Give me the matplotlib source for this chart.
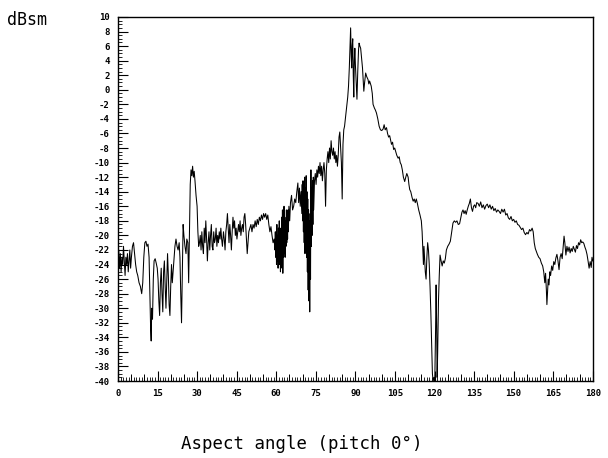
import matplotlib
matplotlib.use("Agg")
import matplotlib.pyplot as plt
from matplotlib.ticker import MultipleLocator

# aspect angle (deg) and RCS (dBsm)
angle = [
    0.0, 0.3, 0.6, 0.9, 1.2, 1.5, 1.8, 2.1, 2.4, 2.7, 3.0, 3.3, 3.6, 3.9, 4.2, 4.5, 4.8, 5.1, 5.5, 5.9,
    6.3, 6.7, 7.1, 7.5, 8.0, 8.5, 9.0, 9.4, 9.8, 10.2, 10.6, 11.0, 11.4, 11.8, 12.1, 12.4, 12.6, 12.8, 13.1, 13.4,
    13.7, 14.1, 14.5, 14.9, 15.2, 15.5, 15.8, 16.1, 16.4, 16.7, 17.0, 17.3, 17.6, 17.9, 18.2, 18.5, 18.8, 19.1, 19.4, 19.7,
    20.0, 20.3, 20.6, 20.9, 21.2, 21.6, 22.0, 22.4, 22.8, 23.2, 23.5, 23.8, 24.1, 24.4, 24.7, 25.0, 25.4, 25.8, 26.1, 26.5,
    26.8, 27.1, 27.4, 27.7, 28.0, 28.3, 28.6, 28.9, 29.2, 29.6, 30.0, 30.3, 30.6, 30.9, 31.2, 31.5, 31.8, 32.1, 32.4, 32.7,
    33.0, 33.3, 33.6, 33.9, 34.2, 34.5, 34.8, 35.1, 35.4, 35.7, 36.0, 36.3, 36.6, 36.9, 37.2, 37.5, 37.8, 38.1, 38.4, 38.7,
    39.0, 39.3, 39.6, 40.0, 40.3, 40.6, 40.9, 41.2, 41.5, 41.8, 42.1, 42.4, 42.7, 43.0, 43.3, 43.6, 43.9, 44.2, 44.5, 44.8,
    45.1, 45.4, 45.7, 46.0, 46.3, 46.6, 46.9, 47.2, 47.5, 47.8, 48.1, 48.4, 48.7, 49.0, 49.3, 49.6, 50.0, 50.4, 50.8, 51.2,
    51.6, 52.0, 52.4, 52.8, 53.2, 53.6, 54.0, 54.4, 54.8, 55.2, 55.6, 56.0, 56.4, 56.8, 57.2, 57.6, 58.0, 58.4, 58.8, 59.2,
    59.5, 59.65, 59.8, 59.95, 60.1, 60.25, 60.4, 60.55, 60.7, 60.85, 61.0, 61.15, 61.3, 61.45, 61.6, 61.75, 61.9, 62.05, 62.2, 62.35,
    62.5, 62.65, 62.8, 62.95, 63.1, 63.25, 63.4, 63.55, 63.7, 63.85, 64.0, 64.15, 64.3, 64.45, 64.6, 64.8, 65.1, 65.4, 65.8, 66.2,
    66.6, 67.0, 67.4, 67.8, 68.2, 68.5, 68.8, 69.1, 69.4, 69.7, 69.85, 70.0, 70.15, 70.3, 70.45, 70.6, 70.75, 70.9, 71.05, 71.2,
    71.35, 71.5, 71.65, 71.8, 71.95, 72.1, 72.25, 72.4, 72.55, 72.7, 72.85, 73.0, 73.15, 73.3, 73.45, 73.6, 73.75, 73.9, 74.05, 74.2,
    74.5, 74.8, 75.1, 75.4, 75.7, 76.0, 76.3, 76.6, 76.9, 77.2, 77.5, 77.8, 78.1, 78.4, 78.7, 79.0, 79.3, 79.6,
    79.9, 80.2, 80.5, 80.8, 81.1, 81.4, 81.7, 82.0, 82.3, 82.6, 82.9, 83.2, 83.5, 83.8, 84.1, 84.4, 84.7, 85.0, 85.3, 85.6,
    85.9, 86.2, 86.5, 86.8, 87.1, 87.4, 87.7, 88.0, 88.2, 88.4, 88.6, 88.8, 89.0, 89.2, 89.4, 89.6, 89.8, 90.0, 90.3, 90.6,
    90.9, 91.2, 91.4, 91.7, 92.0, 92.3, 92.7, 93.0, 93.2, 93.5, 93.9, 94.3, 94.8, 95.1, 95.4, 96.0, 96.4, 96.7, 97.2, 97.6,
    98.0, 98.5, 99.0, 99.5, 100.0, 100.5, 100.9, 101.3, 101.8, 102.2, 102.6, 103.0, 103.4, 103.7, 104.1, 104.5, 104.9, 105.3, 105.7, 106.2,
    106.6, 107.0, 107.4, 107.8, 108.2, 108.7, 109.1, 109.5, 110.0, 110.3, 110.6, 111.0, 111.5, 111.9, 112.3, 112.7, 113.1, 113.5, 114.0, 114.5,
    115.0, 115.3, 115.6, 115.8, 116.0, 116.2, 116.5, 116.8, 117.1, 117.4, 117.7, 118.0, 118.3, 118.6, 118.9, 119.2, 119.5, 119.8, 120.1, 120.4,
    120.6, 120.8, 121.0, 121.2, 121.5, 121.8, 122.1, 122.5, 122.9, 123.3, 123.7, 124.1, 124.5, 125.0, 125.5, 126.0, 126.5, 127.0, 127.5, 128.0,
    128.5, 129.0, 129.5, 130.0, 130.4, 130.8, 131.2, 131.6, 132.0, 132.4, 132.8, 133.2, 133.6, 134.0, 134.4, 134.8, 135.2, 135.6, 136.0, 136.5,
    137.0, 137.5, 138.0, 138.5, 139.0, 139.5, 140.0, 140.5, 141.0, 141.5, 142.0, 142.5, 143.0, 143.5, 144.0, 144.5, 145.0, 145.5, 146.0, 146.5,
    147.0, 147.5, 148.0, 148.5, 149.0, 149.5, 150.0, 150.5, 151.0, 151.5, 152.0, 152.5, 153.0, 153.5, 154.0, 154.5, 155.0, 155.5, 156.0, 156.5,
    157.0, 157.4, 157.8, 158.2, 158.6, 159.0, 159.5, 160.0, 160.5, 161.0, 161.4, 161.8, 162.1, 162.4, 162.6, 162.8, 163.1, 163.4, 163.7, 164.0,
    164.4, 164.8, 165.2, 165.6, 166.0, 166.4, 166.8, 167.2, 167.6, 168.0, 168.4, 168.8, 169.1, 169.4, 169.8, 170.2, 170.6, 171.0, 171.4, 171.8,
    172.2, 172.6, 173.0, 173.4, 173.8, 174.2, 174.6, 175.0, 175.4, 175.8, 176.2, 176.6, 177.0, 177.4, 177.8, 178.2, 178.6, 179.0, 179.4, 179.7,
    180.0,
]
rcs = [
    -23.5, -22.0, -24.5, -22.5, -25.0, -23.0, -24.0, -21.5, -23.5, -25.5, -23.0, -24.0, -22.5, -25.0, -23.5, -22.0, -24.5, -23.0, -21.5, -21.0,
    -22.5, -24.0, -25.0, -25.5, -26.5, -27.0, -28.0, -26.5, -23.0, -21.0, -20.8, -21.5, -21.2, -23.0, -28.0, -33.0, -34.5, -30.0, -31.5, -26.0,
    -23.5, -23.2, -23.8, -24.5, -26.0, -29.0, -31.0, -26.5, -24.5, -28.0, -30.5, -25.0, -23.5, -27.0, -30.0, -26.0, -22.5, -25.5, -29.5, -31.0,
    -27.0, -24.0, -26.5, -25.0, -23.5, -21.5, -20.5, -21.5, -22.0, -21.0, -23.0, -28.0, -32.0, -25.0, -18.5, -20.0, -21.5, -22.5, -20.5, -21.0,
    -26.5, -20.0, -13.0, -11.0, -11.8, -10.5, -12.0, -11.2, -12.5, -14.5, -16.0, -19.5, -21.5, -21.0, -20.0, -22.0, -19.5, -21.5, -22.5, -19.0,
    -21.0, -18.0, -20.5, -23.5, -21.0, -19.5, -22.0, -20.0, -18.5, -21.5, -22.0, -19.5, -21.0, -20.5, -19.0, -21.5, -20.0, -21.0, -19.5, -20.5,
    -19.0, -20.5, -21.5, -19.5, -20.5, -22.0, -19.5, -18.5, -17.0, -19.0, -21.0, -18.5, -20.0, -22.0, -19.5, -17.5, -19.0, -18.0, -20.0, -19.0,
    -20.5, -19.5, -18.5, -19.5, -18.0, -20.0, -19.0, -18.5, -19.5, -17.5, -17.0, -18.5, -20.5, -22.5, -21.0, -19.5, -19.0, -18.5, -19.5, -18.5,
    -19.0, -18.0, -18.8, -17.8, -18.5, -17.5, -18.0, -17.2, -17.8, -17.0, -17.5, -17.0, -17.8, -17.2, -18.5, -19.5, -18.8, -20.0, -21.0, -20.5,
    -22.0, -19.5, -23.0, -20.0, -24.0, -18.5, -23.5, -20.0, -24.5, -19.0, -22.5, -18.0, -24.0, -20.5, -25.0, -19.0, -23.0, -17.5, -24.5, -16.5,
    -25.2, -19.5, -23.0, -16.0, -22.5, -17.5, -23.0, -18.0, -21.5, -16.5, -21.0, -17.5, -20.5, -16.5, -19.5, -16.0, -18.0, -15.5, -14.5, -16.5,
    -16.0, -15.0, -15.5, -14.0, -12.8, -15.5, -13.5, -16.0, -14.0, -17.0, -13.0, -18.0, -12.5, -19.5, -13.0, -21.0, -12.0, -22.5, -13.5, -20.0,
    -11.8, -23.0, -14.0, -25.0, -15.0, -27.5, -16.5, -29.0, -18.0, -30.5, -17.0, -26.0, -11.0, -21.5, -13.5, -20.0, -12.5, -18.5, -12.0, -16.5,
    -12.5, -11.5, -13.0, -11.0, -12.0, -10.5, -11.5, -10.0, -11.8, -10.5, -12.5, -11.0, -10.0, -11.5, -16.0, -11.0, -9.5, -8.5,
    -10.0, -8.0, -9.5, -7.0, -8.5, -9.0, -8.0, -9.5, -8.5, -10.0, -9.0, -10.5, -9.0, -6.5, -5.8, -8.0, -10.0, -15.0, -7.5, -5.5,
    -5.0, -4.0, -3.0, -2.0, -1.0, 0.5, 3.0, 6.5, 8.5, 5.0, 3.0, 6.0, 7.0, 2.0, -1.0, 4.0, 5.7, 3.5, 1.0, -1.3,
    2.5, 5.5, 6.4, 6.0, 5.7, 4.5, 3.0, 1.0, -0.2, 1.0, 2.3, 1.8, 1.4, 0.8, 1.2, 0.5, -0.5, -2.0, -2.5, -2.8,
    -3.2, -4.0, -5.0, -5.5, -5.6, -5.4, -4.8, -5.5, -5.2, -6.0, -6.5, -6.3, -7.0, -7.5, -7.2, -8.2, -8.0, -8.5, -9.0, -9.4,
    -9.2, -10.0, -10.3, -11.0, -12.0, -12.6, -12.0, -11.5, -12.0, -13.0, -13.7, -14.0, -14.8, -15.3, -15.0, -15.5, -15.0, -15.6, -16.5, -17.2,
    -18.0, -19.5, -22.0, -24.0, -21.5, -23.0, -25.0, -26.0, -23.0, -21.0, -22.0, -24.0, -27.0, -30.5, -35.0, -39.0, -40.0, -39.5, -40.0, -33.0,
    -26.8, -32.0, -39.5, -36.0, -29.0, -25.5, -22.7, -23.5, -24.2, -23.5, -23.8, -23.2, -22.0, -21.5, -21.2, -20.8, -19.5, -18.3, -18.0, -18.2,
    -18.0, -18.5, -18.4, -17.5, -16.8, -16.5, -17.0, -16.6, -17.1, -16.5, -16.0, -15.6, -15.0, -16.2, -16.7, -16.0, -15.8, -16.2, -15.5, -15.6,
    -16.0, -15.4, -16.2, -15.8, -16.4, -15.9, -15.7, -16.2, -15.8, -16.4, -16.0, -16.6, -16.3, -16.8, -16.5, -16.7, -17.0, -16.4, -16.8, -16.4,
    -17.2, -17.0, -17.6, -17.8, -17.4, -18.0, -17.8, -18.2, -18.0, -18.5, -18.6, -18.9, -19.2, -19.0, -19.6, -19.9, -19.6, -19.8, -19.2, -19.4,
    -19.0, -19.5, -21.0, -21.8, -22.2, -22.6, -23.0, -23.2, -23.8, -24.2, -25.0, -26.5, -25.2, -27.5, -29.5, -28.0, -26.0, -26.8, -25.0, -25.5,
    -24.2, -24.8, -23.6, -24.0, -23.1, -22.6, -23.5, -24.7, -23.0, -22.5, -23.2, -21.5, -20.1, -21.0, -22.7, -21.5, -22.2, -21.6, -22.4, -21.8,
    -22.2, -21.5, -21.9, -22.3, -21.4, -21.8, -21.0, -21.3, -20.6, -21.0, -20.9, -21.1, -21.6, -22.0, -22.6, -23.5, -24.5, -23.6, -24.4, -23.0,
    -23.5,
]

xticks = [0, 15, 30, 45, 60, 75, 90, 105, 120, 135, 150, 165, 180]
yticks = list(range(-40, 11, 2))

mono = "DejaVu Sans Mono"

fig = plt.figure(figsize=(6.08, 4.58), dpi=100)
ax = fig.add_axes([0.194, 0.168, 0.781, 0.795])

ax.plot(angle, rcs, color="black", linewidth=0.75)

ax.set_xlim(0, 180)
ax.set_ylim(-40, 10)
ax.set_xticks(xticks)
ax.set_yticks(yticks)
ax.set_xticklabels([str(t) for t in xticks], fontfamily=mono, fontsize=6.5, fontweight="bold")
ax.set_yticklabels([str(t) for t in yticks], fontfamily=mono, fontsize=6.5, fontweight="bold")
ax.xaxis.set_minor_locator(MultipleLocator(1))
ax.yaxis.set_minor_locator(MultipleLocator(0.5))
ax.tick_params(which="major", direction="in", length=7, width=0.8, pad=6)
ax.tick_params(which="minor", direction="in", length=3, width=0.6)
ax.tick_params(top=False, right=False, which="both")
for s in ax.spines.values():
    s.set_linewidth(1.0)

# medium ticks every 5 degrees on the bottom axis
sec = ax.secondary_xaxis("bottom")
sec.set_xticks(list(range(0, 181, 5)))
sec.tick_params(direction="in", length=5, width=0.7, labelbottom=False)
sec.spines["bottom"].set_visible(False)

fig.text(0.012, 0.957, "dBsm", fontfamily=mono, fontsize=12, ha="left", va="center")
fig.text(0.497, 0.03, "Aspect angle (pitch 0°)", fontfamily=mono, fontsize=12.5,
         ha="center", va="center")

fig.savefig("out.png", dpi=100)
